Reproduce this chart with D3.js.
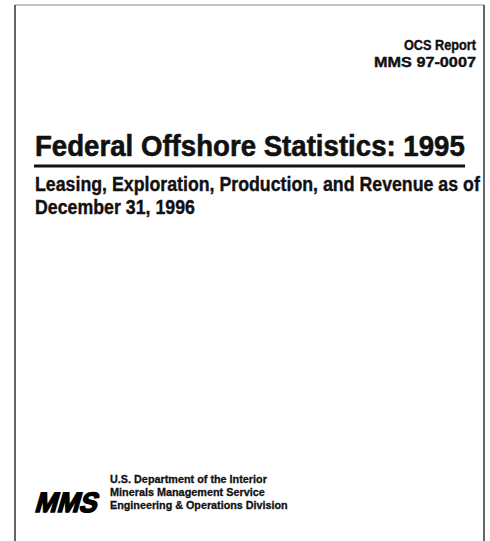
<!DOCTYPE html>
<html>
<head>
<meta charset="utf-8">
<script src="https://cdn.jsdelivr.net/npm/d3@7"></script>
<style>
  body { margin: 0; background: #fff; }
  svg { display: block; }
</style>
</head>
<body>
<div id="cover"></div>
<script>
// setup
var svgWidth = 490;
var svgHeight = 541;

// text on the cover
var reportLines = ["OCS Report", "MMS 97-0007"];
var reportWidths = [72, 102];
var titleText = "Federal Offshore Statistics: 1995";
var subtitleLines = ["Leasing, Exploration, Production, and Revenue as of", "December 31, 1996"];
var subtitleWidths = [445, 160];
var logoText = "MMS";
var agencyLines = ["U.S. Department of the Interior", "Minerals Management Service", "Engineering & Operations Division"];
var agencyWidths = [157, 155, 178];

var sans = "'Liberation Sans', Arial, Helvetica, sans-serif";

var svg = d3.select("#cover")
    .append("svg")
    .attr("width", svgWidth)
    .attr("height", svgHeight);

// squeeze/stretch a text (drawn at x=0) so it spans exactly w pixels
function fit(text, x, y, w, anchor) {
    var natural = text.node().getComputedTextLength();
    var sx = w / natural;
    var left = anchor === "end" ? x - w : x;
    text.attr("x", 0).attr("y", 0)
        .attr("transform", "translate(" + left + "," + y + ") scale(" + sx + ",1)");
}

// page frame (no bottom edge visible)
var frame = svg.append("g")
    .attr("fill", "none");
frame.append("line")
    .attr("x1", 15).attr("y1", 5).attr("x2", 484).attr("y2", 5)
    .attr("stroke", "#8a8a8a").attr("stroke-width", 1);
frame.append("line")
    .attr("x1", 15).attr("y1", 5).attr("x2", 15).attr("y2", svgHeight)
    .attr("stroke", "#333").attr("stroke-width", 1.5);
frame.append("line")
    .attr("x1", 484).attr("y1", 5).attr("x2", 484).attr("y2", svgHeight)
    .attr("stroke", "#333").attr("stroke-width", 1.5);

// report number, top right
svg.append("g")
    .selectAll("text")
    .data(reportLines)
    .enter()
    .append("text")
    .style("font-family", sans)
    .style("font-weight", "bold")
    .style("font-size", "15px")
    .style("fill", "#111")
    .style("stroke", "#111")
    .style("stroke-width", 0.4)
    .text(function (d) { return d; })
    .each(function (d, i) { fit(d3.select(this), 476, 50 + i * 17, reportWidths[i], "end"); });

// title + rule
var title = svg.append("text")
    .style("font-family", sans)
    .style("font-weight", "bold")
    .style("font-size", "30px")
    .style("fill", "#111")
    .style("stroke", "#111")
    .style("stroke-width", 0.6)
    .text(titleText);
fit(title, 35, 156, 430);

svg.append("line")
    .attr("x1", 34).attr("y1", 166).attr("x2", 465).attr("y2", 166)
    .attr("stroke", "#111").attr("stroke-width", 3);

// subtitle
svg.append("g")
    .selectAll("text")
    .data(subtitleLines)
    .enter()
    .append("text")
    .style("font-family", sans)
    .style("font-weight", "bold")
    .style("font-size", "21px")
    .style("fill", "#111")
    .style("stroke", "#111")
    .style("stroke-width", 0.4)
    .text(function (d) { return d; })
    .each(function (d, i) { fit(d3.select(this), 35, 191 + i * 23, subtitleWidths[i]); });

// MMS logo
var logo = svg.append("g")
    .attr("transform", "translate(34,512) skewX(-16)");
var logoLabel = logo.append("text")
    .style("font-family", sans)
    .style("font-weight", "bold")
    .style("font-size", "28px")
    .style("fill", "#000")
    .style("stroke", "#000")
    .style("stroke-width", 1.6)
    .text(logoText);
fit(logoLabel, 0, 0, 62);

// agency block
svg.append("g")
    .selectAll("text")
    .data(agencyLines)
    .enter()
    .append("text")
    .style("font-family", sans)
    .style("font-weight", "bold")
    .style("font-size", "11px")
    .style("fill", "#111")
    .style("stroke", "#111")
    .style("stroke-width", 0.3)
    .text(function (d) { return d; })
    .each(function (d, i) { fit(d3.select(this), 110, 483 + i * 13, agencyWidths[i]); });
</script>
</body>
</html>
